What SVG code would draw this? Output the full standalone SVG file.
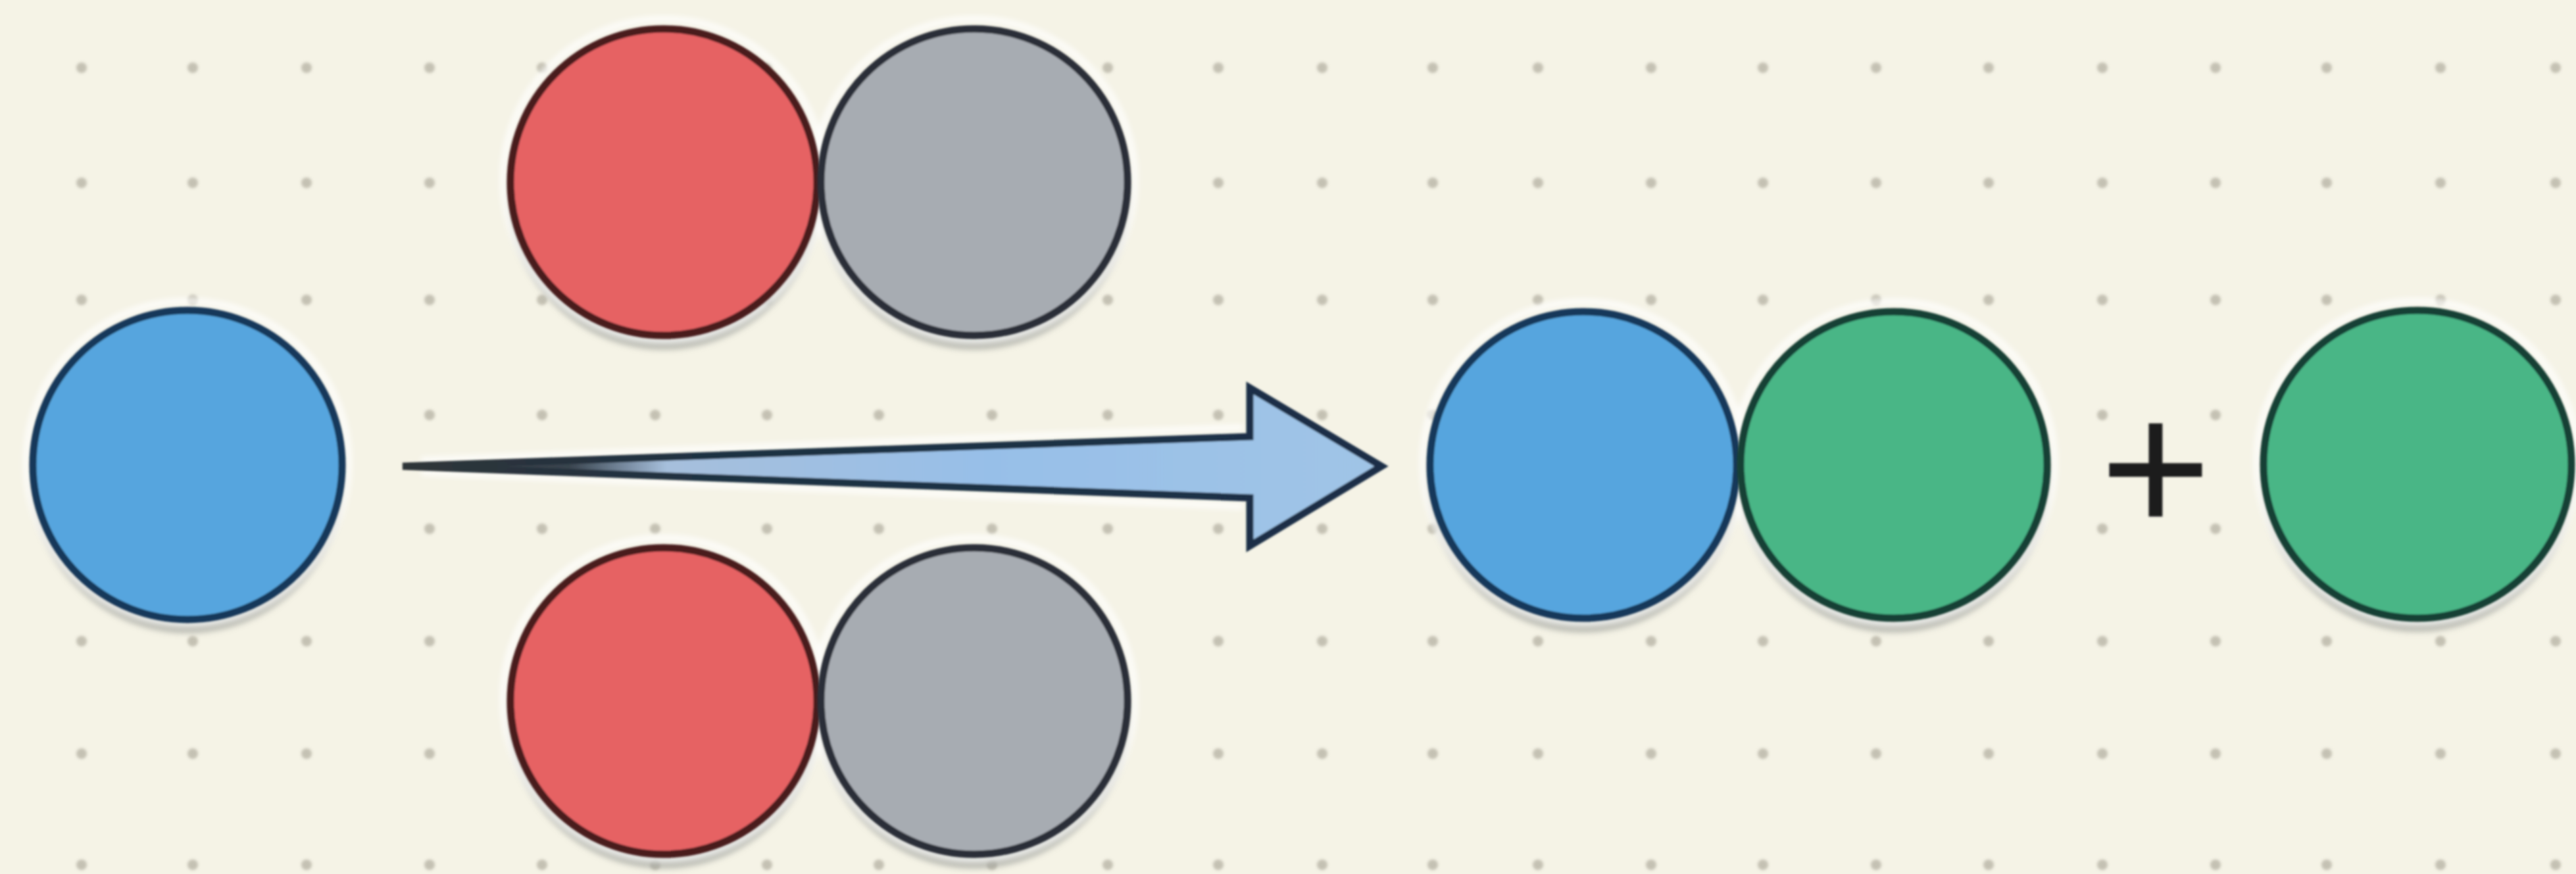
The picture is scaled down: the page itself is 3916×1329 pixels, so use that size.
<svg xmlns="http://www.w3.org/2000/svg" xmlns:xlink="http://www.w3.org/1999/xlink" width="3916" height="1329" viewBox="0 0 3916 1329">
<style>
.node{stroke-width:11}
.blue{fill:#56a5de;stroke:#14385a}
.red{fill:#e66263;stroke:#4a1a1e}
.gray{fill:#a7acb2;stroke:#2a2f38}
.green{fill:#49b686;stroke:#123f36}
.shadow{fill:#9a9c98;opacity:.62}
.halo{fill:none;stroke:#ffffff;stroke-width:10;opacity:.75}
.dot{fill:#c4c1b3}
.plus{font-family:"Liberation Sans",Arial,sans-serif;font-size:290px;fill:#1c1c1e;text-anchor:middle}
</style>
<defs>
<filter id="soft" x="-5%" y="-5%" width="110%" height="110%"><feGaussianBlur stdDeviation="1.5"/></filter>
<filter id="dotblur" x="-5%" y="-5%" width="110%" height="110%"><feGaussianBlur stdDeviation="2.2"/></filter>
<filter id="blur" x="-10%" y="-10%" width="120%" height="120%"><feGaussianBlur stdDeviation="4"/></filter>
<linearGradient id="arrowFill" gradientUnits="userSpaceOnUse" x1="612" y1="0" x2="2100" y2="0">
<stop offset="0" stop-color="#2c343a"/><stop offset=".17" stop-color="#39444e"/><stop offset=".27" stop-color="#a6bfdc"/><stop offset=".6" stop-color="#97bfe8"/><stop offset="1" stop-color="#a0c4e6"/>
</linearGradient>
<linearGradient id="arrowStroke" gradientUnits="userSpaceOnUse" x1="612" y1="0" x2="2100" y2="0">
<stop offset="0" stop-color="#2f3538"/><stop offset=".3" stop-color="#1f3042"/><stop offset="1" stop-color="#1a2f47"/>
</linearGradient>
<g id="row">
<circle class="dot" cx="124" cy="0" r="8"/><circle class="dot" cx="293" cy="0" r="8"/><circle class="dot" cx="466" cy="0" r="8"/><circle class="dot" cx="653" cy="0" r="8"/><circle class="dot" cx="824" cy="0" r="8"/><circle class="dot" cx="996" cy="0" r="8"/><circle class="dot" cx="1166" cy="0" r="8"/><circle class="dot" cx="1336" cy="0" r="8"/><circle class="dot" cx="1508" cy="0" r="8"/><circle class="dot" cx="1684" cy="0" r="8"/><circle class="dot" cx="1852" cy="0" r="8"/><circle class="dot" cx="2010" cy="0" r="8"/><circle class="dot" cx="2178" cy="0" r="8"/><circle class="dot" cx="2338" cy="0" r="8"/><circle class="dot" cx="2510" cy="0" r="8"/><circle class="dot" cx="2680" cy="0" r="8"/><circle class="dot" cx="2852" cy="0" r="8"/><circle class="dot" cx="3023" cy="0" r="8"/><circle class="dot" cx="3196" cy="0" r="8"/><circle class="dot" cx="3368" cy="0" r="8"/><circle class="dot" cx="3537" cy="0" r="8"/><circle class="dot" cx="3710" cy="0" r="8"/><circle class="dot" cx="3885" cy="0" r="8"/>
</g>
</defs>
<rect width="3916" height="1329" fill="#f5f3e6"/>
<g id="grid" filter="url(#dotblur)">
<use xlink:href="#row" y="103"/><use xlink:href="#row" y="278"/><use xlink:href="#row" y="456"/><use xlink:href="#row" y="631"/><use xlink:href="#row" y="804"/><use xlink:href="#row" y="975"/><use xlink:href="#row" y="1146"/><use xlink:href="#row" y="1315"/>
</g>
<g id="shadows" filter="url(#blur)">
<circle class="shadow" cx="285" cy="725" r="238"/>
<circle class="shadow" cx="1009" cy="295" r="237"/><circle class="shadow" cx="1481" cy="295" r="237"/>
<circle class="shadow" cx="1009" cy="1084" r="237"/><circle class="shadow" cx="1481" cy="1084" r="237"/>
<circle class="shadow" cx="2407" cy="725" r="237"/><circle class="shadow" cx="2879" cy="725" r="237"/><circle class="shadow" cx="3675" cy="724" r="237"/>
</g>
<g id="halos" filter="url(#blur)">
<circle class="halo" cx="285" cy="703" r="245"/>
<circle class="halo" cx="2407" cy="703" r="244"/><circle class="halo" cx="2879" cy="703" r="244"/><circle class="halo" cx="3675" cy="702" r="244"/>
<circle class="halo" cx="1009" cy="273" r="244"/><circle class="halo" cx="1481" cy="273" r="244"/>
<circle class="halo" cx="1009" cy="1062" r="244"/><circle class="halo" cx="1481" cy="1062" r="244"/>
<path d="M640 700L1890 650M640 718L1890 770" fill="none" stroke="#fff" stroke-width="10" opacity=".75"/>
</g>
<g id="connectors" filter="url(#soft)">
<path id="arrow" d="M612 709L1900 664V590L2100 709L1900 830V757Z" fill="url(#arrowFill)" stroke="url(#arrowStroke)" stroke-width="11" stroke-linejoin="miter"/>
</g>
<g id="atom-blue-left" filter="url(#soft)"><circle class="node blue" cx="285" cy="707" r="235"/></g>
<g id="atom-red-top" filter="url(#soft)"><circle class="node red" cx="1009" cy="277" r="233"/></g>
<g id="atom-gray-top" filter="url(#soft)"><circle class="node gray" cx="1481" cy="277" r="233"/></g>
<g id="atom-red-bottom" filter="url(#soft)"><circle class="node red" cx="1009" cy="1066" r="233"/></g>
<g id="atom-gray-bottom" filter="url(#soft)"><circle class="node gray" cx="1481" cy="1066" r="233"/></g>
<g id="atom-blue-right" filter="url(#soft)"><circle class="node blue" cx="2407" cy="707" r="233"/></g>
<g id="atom-green-right" filter="url(#soft)"><circle class="node green" cx="2879" cy="707" r="233"/></g>
<g id="plus" filter="url(#soft)"><text class="plus" x="3277" y="811">+</text></g>
<g id="atom-green-free" filter="url(#soft)"><circle class="node green" cx="3675" cy="706" r="234"/></g>
</svg>
